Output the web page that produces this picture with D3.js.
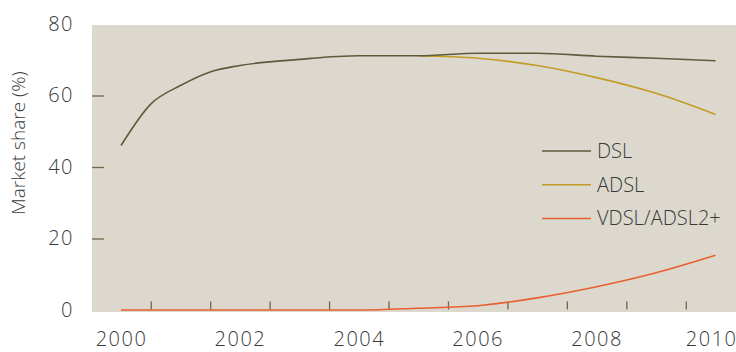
<!DOCTYPE html>
<html>
<head>
<meta charset="utf-8">
<script src="https://cdn.jsdelivr.net/npm/d3@7"></script>
<style>
  body { margin: 0; background: #fff; }
  svg text { font-family: "Open Sans", sans-serif; font-weight: 300; fill: #3a3a3a; }
</style>
</head>
<body>
<div class="chart"></div>
<script>
// DATA
// ----------------------------
const years = [2000, 2001, 2002, 2003, 2004, 2005, 2006, 2007, 2008, 2009, 2010]
const dslYears = [2000, 2000.5, 2001, 2001.5, 2002, 2003, 2004, 2005, 2006, 2007, 2008, 2009, 2010]
const dsl = [46, 57.6, 62.8, 66.6, 68.4, 70.1, 71.1, 71.1, 71.8, 71.8, 71.0, 70.4, 69.7]
const adslYears = [2005, 2006, 2007, 2008, 2009, 2010]
const adsl = [71.1, 70.4, 68.4, 65.0, 60.6, 54.7]
const vdsl = [0, 0, 0, 0, 0, 0.5, 1.2, 3.4, 6.5, 10.4, 15.3]
const yTicks = [0, 20, 40, 60, 80]
const yMarks = [20, 40, 60]
const xLabels = [2000, 2002, 2004, 2006, 2008, 2010]
const xMarks = [2000.5, 2001.5, 2002.5, 2003.5, 2004.5, 2005.5, 2006.5, 2007.5, 2008.5, 2009.5]
const seriesNames = ['DSL', 'ADSL', 'VDSL/ADSL2+']
const colors = ['#5e5b3b', '#c49c24', '#e8602f']

// SETUP
// ----------------------------
const fullWidth = 736
const fullHeight = 352
const plot = { left: 92, top: 25, right: 736, bottom: 312 }

const svg = d3.select('.chart')
  .append('svg')
    .attr('width', fullWidth)
    .attr('height', fullHeight)

svg.append('rect')
  .attr('x', plot.left)
  .attr('y', plot.top)
  .attr('width', plot.right - plot.left)
  .attr('height', plot.bottom - plot.top)
  .style('fill', '#dcd8ce')

// SCALES
// ----------------------------
const xScale = d3.scaleLinear()
  .domain([2000, 2010])
  .range([121, 715.5])
const yScale = d3.scaleLinear()
  .domain([0, 80])
  .range([310, 24])

// Y AXIS
// ----------------------------
const yAxis = d3.axisLeft(yScale)
  .tickValues(yTicks)
  .tickSize(0)
  .tickPadding(0)
svg.append('g')
    .attr('transform', 'translate(74, 0)')
  .call(yAxis)
  .call(g => g.select('.domain').remove())
  .selectAll('text')
    .style('font-size', '20px')
    .style('letter-spacing', '1.5px')

const yMarkAxis = d3.axisRight(yScale)
  .tickValues(yMarks)
  .tickSize(12)
  .tickFormat('')
svg.append('g')
    .attr('transform', `translate(${plot.left}, 0)`)
  .call(yMarkAxis)
  .call(g => g.select('.domain').remove())
  .selectAll('line')
    .style('stroke', '#6b6945')
    .style('stroke-width', 1.3)

svg.append('text')
  .attr('transform', 'translate(25, 143) rotate(-90)')
  .attr('text-anchor', 'middle')
  .style('font-size', '19px')
  .text('Market share (%)')

// X AXIS
// ----------------------------
const xAxis = d3.axisBottom(xScale)
  .tickValues(xLabels)
  .tickFormat(d3.format('d'))
  .tickSize(0)
  .tickPadding(0)
svg.append('g')
    .attr('transform', 'translate(0, 332)')
  .call(xAxis)
  .call(g => g.select('.domain').remove())
  .selectAll('text')
    .style('font-size', '20px')
    .style('letter-spacing', '1.5px')
    // keep the last year label inside the frame
    .filter(d => d === xLabels[xLabels.length - 1])
    .attr('text-anchor', 'end')
    .attr('x', fullWidth + 1 - xScale(xLabels[xLabels.length - 1]))

const xMarkAxis = d3.axisTop(xScale)
  .tickValues(xMarks)
  .tickSize(8)
  .tickFormat('')
svg.append('g')
    .attr('transform', 'translate(0, 309.5)')
  .call(xMarkAxis)
  .call(g => g.select('.domain').remove())
  .selectAll('line')
    .style('stroke', '#6b6945')
    .style('stroke-width', 1.3)

// LINES
// ----------------------------
const line = d3.line()
  .x(d => xScale(d[0]))
  .y(d => yScale(d[1]))
  .curve(d3.curveMonotoneX)

const series = [
  d3.zip(years, vdsl),
  d3.zip(adslYears, adsl),
  d3.zip(dslYears, dsl),
]
const seriesColors = [colors[2], colors[1], colors[0]]

svg.selectAll('path.series')
  .data(series)
  .enter()
  .append('path')
    .attr('class', 'series')
    .attr('d', line)
    .style('fill', 'none')
    .style('stroke', (d, i) => seriesColors[i])
    .style('stroke-width', 1.6)

// LEGEND
// ----------------------------
const legend = svg.selectAll('g.legend')
  .data(seriesNames)
  .enter()
  .append('g')
    .attr('class', 'legend')
    .attr('transform', (d, i) => `translate(542, ${151 + i * 33.7})`)
legend.append('line')
  .attr('x1', 0)
  .attr('x2', 49)
  .style('stroke', (d, i) => colors[i])
  .style('stroke-width', 1.5)
legend.append('text')
  .attr('x', 55)
  .attr('dy', '0.35em')
  .style('font-size', '20px')
  .text(d => d)
</script>
</body>
</html>
